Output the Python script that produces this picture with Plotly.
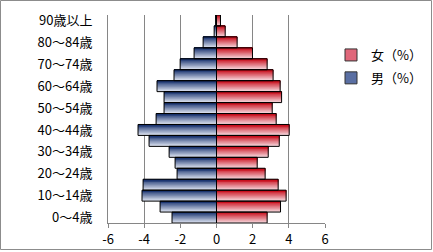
import plotly.graph_objects as go

# ---- data ----
age_labels = ["0〜4歳", "5〜9歳", "10〜14歳", "15〜19歳", "20〜24歳", "25〜29歳",
              "30〜34歳", "35〜39歳", "40〜44歳", "45〜49歳", "50〜54歳", "55〜59歳",
              "60〜64歳", "65〜69歳", "70〜74歳", "75〜79歳", "80〜84歳", "85〜89歳",
              "90歳以上"]
female_pct = [2.80, 3.54, 3.85, 3.41, 2.69, 2.25, 2.86, 3.47, 4.02, 3.30,
              3.08, 3.60, 3.52, 3.13, 2.80, 1.99, 1.14, 0.48, 0.22]
male_pct = [2.46, 3.12, 4.12, 4.06, 2.18, 2.29, 2.62, 3.73, 4.34, 3.34,
            2.90, 2.90, 3.29, 2.35, 2.01, 1.24, 0.74, 0.13, 0.05]
female_name = "女（%）"
male_name = "男（%）"
x_tick_vals = [-6, -4, -2, 0, 2, 4, 6]
x_tick_text = ["-6", "-4", "-2", "0", "2", "4", "6"]
y_tick_labels = age_labels[::2]

# ---- layout constants ----
W, H = 433, 252
ML, MR, MT, MB = 108, 108, 15, 29
PW, PH = W - ML - MR, H - MT - MB
FONT = "Noto Sans CJK JP"
GRID = "#868686"


def hex2rgb(h):
    h = h.lstrip("#")
    return tuple(int(h[i:i + 2], 16) for i in (0, 2, 4))


def lerp(c1, c2, t):
    a, b = hex2rgb(c1), hex2rgb(c2)
    return "rgb(%d,%d,%d)" % tuple(round(a[k] + (b[k] - a[k]) * t) for k in range(3))


N = 12
fig = go.Figure()

series = [
    (male_name, [-v for v in male_pct], "#1C3570", "#DCE2F0", "#5A6FA3"),
    (female_name, female_pct, "#C8101E", "#F6D6DC", "#E0677A"),
]

for name, vals, dark, light, mid in series:
    for i in range(N):
        t = i / (N - 1)
        fig.add_trace(go.Bar(
            x=vals, y=age_labels, orientation="h",
            offset=-0.5 + i / N, width=1 - i / N,
            marker=dict(color=lerp(light, dark, t), line=dict(width=0)),
            showlegend=False, hoverinfo="skip",
        ))
    # outline
    fig.add_trace(go.Bar(
        x=vals, y=age_labels, orientation="h", offset=-0.5, width=1,
        marker=dict(color="rgba(0,0,0,0)", line=dict(color="black", width=1)),
        showlegend=False, name=name,
    ))

# legend-only entries (女 first)
fig.add_trace(go.Bar(x=[None], y=[None], orientation="h", name=female_name,
                     marker=dict(color="#E0677A", line=dict(color="#333", width=1)),
                     legendgroup="f", legendrank=1))
fig.add_trace(go.Bar(x=[None], y=[None], orientation="h", name=male_name,
                     marker=dict(color="#5A6FA3", line=dict(color="#333", width=1)),
                     legendgroup="m", legendrank=2))

fig.update_layout(
    width=W, height=H,
    margin=dict(l=ML, r=MR, t=MT, b=MB, pad=0, autoexpand=False),
    paper_bgcolor="white", plot_bgcolor="white",
    barmode="overlay",
    font=dict(family=FONT, size=13, color="black"),
    legend=dict(x=(331 - ML) / PW, y=(MT + PH - 40) / PH, xanchor="left", yanchor="top",
                font=dict(family=FONT, size=13, color="black"),
                tracegroupgap=3, bgcolor="rgba(0,0,0,0)", itemwidth=30),
    xaxis=dict(range=[-6, 6], tickvals=x_tick_vals, ticktext=x_tick_text,
               showgrid=True, gridcolor=GRID, gridwidth=1, zeroline=False,
               showline=True, linecolor=GRID, linewidth=1,
               ticks="outside", ticklen=4, tickcolor=GRID,
               tickfont=dict(family=FONT, size=13, color="black")),
    yaxis=dict(type="category", categoryorder="array", categoryarray=age_labels,
               tickmode="array", tickvals=y_tick_labels, ticktext=y_tick_labels,
               showgrid=False, zeroline=False,
               showline=True, linecolor=GRID, linewidth=1, ticks="",
               ticklabelstandoff=12,
               tickfont=dict(family=FONT, size=13, color="black")),
    shapes=[dict(type="rect", xref="paper", yref="paper",
                 x0=(-ML + 0.5) / PW, x1=(W - ML - 1.5) / PW,
                 y0=-(MB - 2.5) / PH, y1=1 + (MT - 0.5) / PH,
                 line=dict(color="#8c8c8c", width=1), fillcolor="rgba(0,0,0,0)",
                 layer="below")],
)

fig.write_html("out.html")
